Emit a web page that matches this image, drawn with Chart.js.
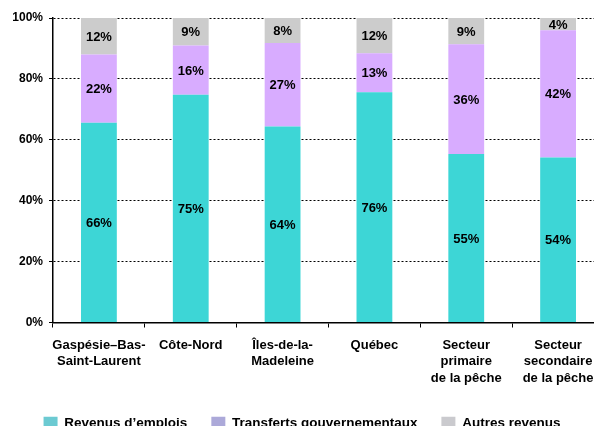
<!DOCTYPE html>
<html>
<head>
<meta charset="utf-8">
<script src="https://cdn.jsdelivr.net/npm/chart.js@4"></script>
<style>
  html, body { margin: 0; padding: 0; background: #fff; overflow: hidden; }
  #wrap { width: 604px; height: 440px; }
</style>
</head>
<body>
<div id="wrap"><canvas id="chart"></canvas></div>
<script>
const categories = [
  ["Gaspésie–Bas-", "Saint-Laurent"],
  "Côte-Nord",
  ["Îles-de-la-", "Madeleine"],
  "Québec",
  ["Secteur", "primaire", "de la pêche"],
  ["Secteur", "secondaire", "de la pêche"]
];
const emplois = [65.6, 74.8, 64.4, 75.6, 55.3, 54.2];
const transferts = [22.4, 16.2, 27.4, 12.8, 36.1, 41.8];
const autres = [12.0, 9.0, 8.2, 11.6, 8.6, 4.0];
const yTicks = [0, 20, 40, 60, 80, 100];

const barColors = ["#3dd6d6", "#d8acff", "#cccccc"];
const legendColors = ["#6ccad2", "#aca9d9", "#cacace"];
const FONT = "'Liberation Sans', Arial, sans-serif";

// draws the percentage inside each stacked segment
const segmentLabels = {
  id: "segmentLabels",
  afterDatasetsDraw(chart) {
    const ctx = chart.ctx;
    ctx.save();
    ctx.font = "bold 13px " + FONT;
    ctx.fillStyle = "#000";
    ctx.textAlign = "center";
    ctx.textBaseline = "middle";
    chart.data.datasets.forEach((ds, i) => {
      const meta = chart.getDatasetMeta(i);
      meta.data.forEach((bar, j) => {
        const v = ds.data[j];
        const top = Math.max(bar.y, chart.chartArea.top);
        const mid = (top + bar.base) / 2;
        ctx.fillText(Math.round(v) + "%", bar.x, mid + 1);
      });
    });
    ctx.restore();
  }
};

new Chart(document.getElementById("chart"), {
  type: "bar",
  data: {
    labels: categories,
    datasets: [
      { label: "Revenus d’emplois", data: emplois, backgroundColor: barColors[0] },
      { label: "Transferts gouvernementaux", data: transferts, backgroundColor: barColors[1] },
      { label: "Autres revenus", data: autres, backgroundColor: barColors[2] }
    ]
  },
  options: {
    responsive: true,
    maintainAspectRatio: false,
    animation: false,
    datasets: { bar: { barPercentage: 0.39, categoryPercentage: 1, borderWidth: 0 } },
    layout: { padding: { top: 18, right: 0, left: 0, bottom: 0 } },
    plugins: {
      tooltip: { enabled: false },
      legend: {
        position: "bottom",
        labels: {
          color: "#000",
          font: { family: FONT, size: 13.5, weight: "bold" },
          boxWidth: 14,
          boxHeight: 13,
          padding: 24,
          generateLabels(chart) {
            return chart.data.datasets.map((ds, i) => ({
              text: ds.label,
              fillStyle: legendColors[i],
              strokeStyle: legendColors[i],
              lineWidth: 0,
              datasetIndex: i
            }));
          }
        }
      }
    },
    scales: {
      x: {
        stacked: true,
        grid: { offset: true, drawOnChartArea: false, drawTicks: true, tickLength: 5, color: "#000" },
        border: { color: "#000", width: 1.5 },
        ticks: {
          color: "#000",
          maxRotation: 0,
          autoSkip: false,
          padding: 9,
          font: { family: FONT, size: 13, weight: "bold", lineHeight: 1.3 }
        },
        afterFit(scale) { scale.height = 70; }
      },
      y: {
        stacked: true,
        min: 0,
        max: 100,
        afterBuildTicks(scale) { scale.ticks = yTicks.map(v => ({ value: v })); },
        grid: { color: "#000", lineWidth: 1, tickLength: 4 },
        border: { color: "#000", width: 1.5, dash: [2, 2] },
        ticks: {
          color: "#000",
          padding: 6,
          font: { family: FONT, size: 12, weight: "bold" },
          callback: v => v + "%"
        },
        afterFit(scale) { scale.width = 53; }
      }
    }
  },
  plugins: [segmentLabels]
});
</script>
</body>
</html>
